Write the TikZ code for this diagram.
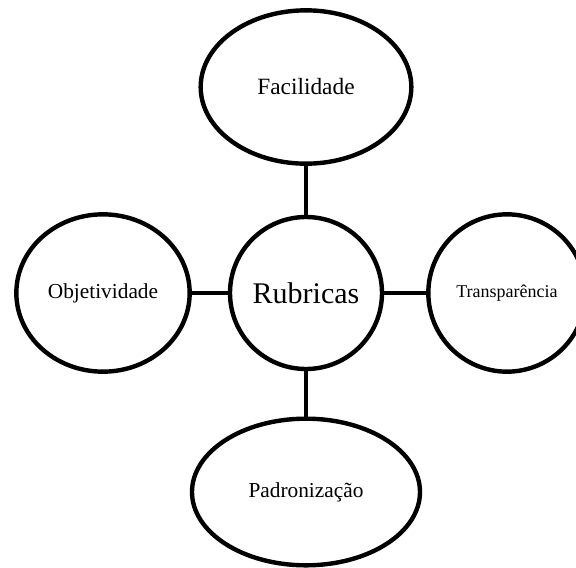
\documentclass[tikz,border=0pt]{standalone}
\usepackage{fontspec}
\setmainfont{Liberation Serif}
\usepackage{tikz}
\usetikzlibrary{shapes.geometric, positioning, calc}
\tikzset{
  % Idea bubbles
  bubble/.style={
    ellipse, draw=black, line width=3.3pt, fill=white,
    inner sep=0pt, outer sep=0pt, text=black, align=center
  },
  % Hub circle
  hub/.style={
    circle, draw=black, line width=3.3pt, fill=white,
    inner sep=0pt, outer sep=0pt, minimum size=114pt,
    font=\fontsize{22.5}{26}\selectfont
  },
  % Spokes
  spoke/.style={line width=3.3pt, color=black},
}

\begin{document}
\begin{tikzpicture}[x=0.75pt, y=-0.75pt]
  \useasboundingbox (0,0) rectangle (576,568);

  \node[hub] (rubricas) at (306,293) {Rubricas};
  \node[bubble, minimum width=158pt, minimum height=115pt,
        font=\fontsize{17.5}{21}\selectfont] (facilidade) at (306,87) {Facilidade};
  \node[bubble, minimum width=130pt, minimum height=118pt,
        font=\fontsize{16}{19}\selectfont] (objetividade) at (103,293) {Objetividade};
  \node[bubble, minimum width=118pt, minimum height=118pt,
        font=\fontsize{13.5}{16}\selectfont] (transparencia) at (507,293) {Transparência};
  \node[bubble, minimum width=171pt, minimum height=110pt,
        font=\fontsize{16}{19}\selectfont] (padronizacao) at (306,492) {Padronização};

  % connectors between the bubbles
  \draw[spoke] (facilidade.south) -- (rubricas.north);
  \draw[spoke] (objetividade.east) -- (rubricas.west);
  \draw[spoke] (rubricas.east) -- (transparencia.west);
  \draw[spoke] (rubricas.south) -- (padronizacao.north);

\end{tikzpicture}
\end{document}
